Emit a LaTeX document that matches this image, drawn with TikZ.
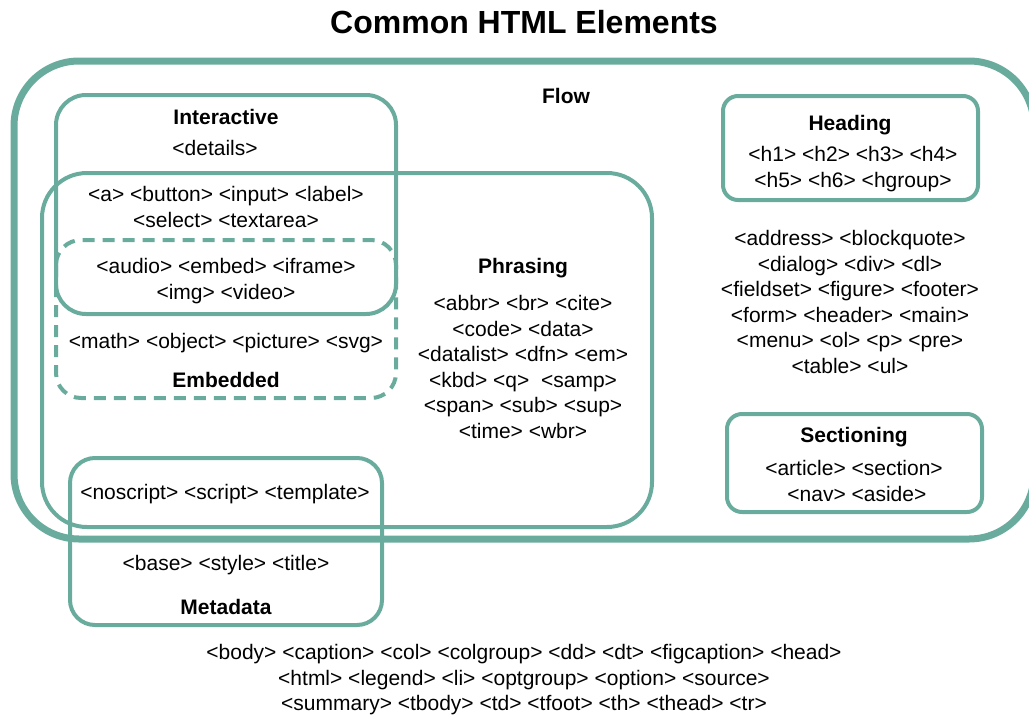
\documentclass[tikz,border=0pt]{standalone}
\usepackage{fontspec}
\setmainfont{Liberation Sans}
\definecolor{htmlteal}{HTML}{69AC9D}
\tikzset{
  lbl/.style={font=\fontsize{21}{25.5}\selectfont\bfseries, inner sep=0pt},
  txt/.style={font=\fontsize{21}{25.5}\selectfont, align=center, inner sep=0pt},
  box/.style={draw=htmlteal, line width=4, rounded corners=28},
  dashbox/.style={box, dash pattern=on 12 off 8},
}
\begin{document}
\begin{tikzpicture}[x=1pt,y=-1pt]
\useasboundingbox (0,0) rectangle (1029,715);
\clip (0,0) rectangle (1029,715);
% containers
\draw[box, line width=7, rounded corners=65] (14,61) rectangle (1034,539);
\draw[box, rounded corners=30] (56,95) rectangle (396,314);
\draw[box, rounded corners=45] (42,173) rectangle (652,527);
\draw[dashbox, rounded corners=25] (56,240) rectangle (396,398);
\draw[box, rounded corners=25] (70,458) rectangle (382,625);
\draw[box, rounded corners=15] (723,96) rectangle (978,200);
\draw[box, rounded corners=15] (727,414) rectangle (982,512);
% title
\node[font=\fontsize{32}{36}\selectfont\bfseries, inner sep=0pt] (title) at (524,22) {Common HTML Elements};
% flow
\node[lbl] (flowlbl) at (566,96) {Flow};
\node[txt] (flowtxt) at (850,302) {<address> <blockquote>\\<dialog> <div> <dl>\\<fieldset> <figure> <footer>\\<form> <header> <main>\\<menu> <ol> <p> <pre>\\<table> <ul>};
% interactive
\node[lbl] (interlbl) at (226,117) {Interactive};
\node[txt] (intertxt1) at (215,148) {<details>};
\node[txt] (intertxt2) at (226,207) {<a> <button> <input> <label>\\<select> <textarea>};
% embedded
\node[txt] (embtxt1) at (226,281) {<audio> <embed> <iframe>\\<img> <video>};
\node[txt] (embtxt2) at (226,343) {<math> <object> <picture> <svg>};
\node[lbl] (emblbl) at (226,380) {Embedded};
% phrasing
\node[lbl] (phrlbl) at (523,268) {Phrasing};
\node[txt] (phrtxt) at (523,367) {<abbr> <br> <cite>\\<code> <data>\\<datalist> <dfn> <em>\\<kbd> <q>\ \ <samp>\\<span> <sub> <sup>\\<time> <wbr>};
% heading
\node[lbl] (headlbl) at (850,125) {Heading};
\node[txt] (headtxt) at (853,169) {<h1> <h2> <h3> <h4>\\<h5> <h6> <hgroup>};
% sectioning
\node[lbl] (seclbl) at (854,437) {Sectioning};
\node[txt] (sectxt) at (854,481) {<article> <section>\\\ <nav> <aside>};
% metadata
\node[txt] (metatxt1) at (225,494) {<noscript> <script> <template>};
\node[txt] (metatxt2) at (226,565) {<base> <style> <title>};
\node[lbl] (metalbl) at (226,607) {Metadata};
% others
\node[txt] (othertxt) at (524,680) {<body> <caption> <col> <colgroup> <dd> <dt> <figcaption> <head>\\<html> <legend> <li> <optgroup> <option> <source>\\<summary> <tbody> <td> <tfoot> <th> <thead> <tr>};
\end{tikzpicture}
\end{document}
